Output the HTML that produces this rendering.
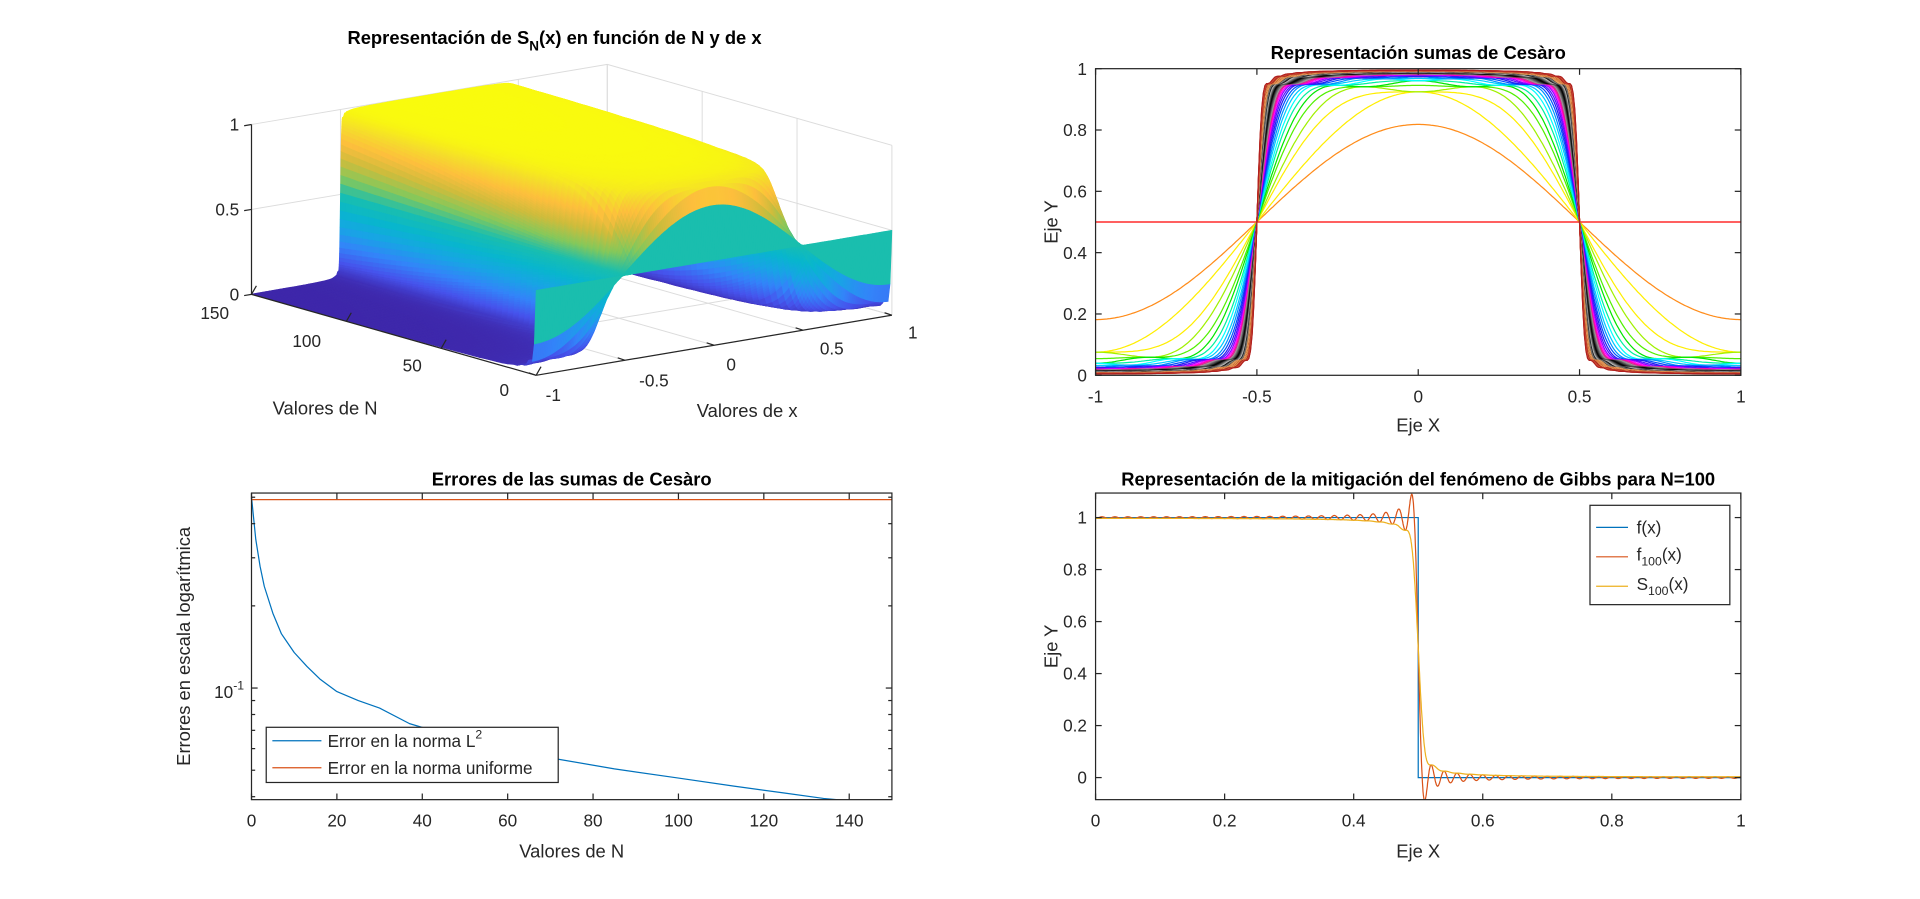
<!DOCTYPE html>
<html><head><meta charset="utf-8"><style>
html,body{margin:0;padding:0;background:#fff;}
svg{display:block;}
text{font-family:"Liberation Sans",Arial,sans-serif;fill:#262626;}
.t{font-size:14px;}
.b{font-weight:bold;font-size:15px;fill:#000;}
.l{font-size:15px;}
</style></head><body>
<svg id="fig" xmlns="http://www.w3.org/2000/svg" width="1920" height="899" viewBox="0 0 1565 733" preserveAspectRatio="none">
<rect width="1565" height="733" fill="#fff"/>
<g id="p3d"></g>
<g id="ptr"></g>
<g id="pbl"></g>
<g id="pbr"></g>
</svg>
<script>
// ---------- data ----------
const errN = [0,1,2,3,5,7,10,13,16,20,25,30,37,45,56,70,85,100,113,125,134,150];
const errL2 = [0.50,0.35,0.279,0.236,0.188,0.158,0.135,0.120,0.108,0.097,0.090,0.0845,0.0741,0.068,0.0615,0.0555,0.0506,0.0468,0.0437,0.0412,0.0394,0.0374];
const errUnif = [0.49,0.49];
const errUnifN = [0,150];
const cesaroNs = []; for (let n=0;n<=60;n++) cesaroNs.push(n);
const gibbsN = [100];
const xTicksTR = [-1,-0.5,0,0.5,1];
const yTicksTR = [0,0.2,0.4,0.6,0.8,1];
const xTicksBR = [0,0.2,0.4,0.6,0.8,1];
const yTicksBR = [0,0.2,0.4,0.6,0.8,1];
const xTicksBL = [0,20,40,60,80,100,120,140];
const zTicks3d = [0,0.5,1];
const nTicks3d = [0,50,100,150];
const xTicks3d = [-1,-0.5,0,0.5,1];

const NS='http://www.w3.org/2000/svg';
function el(tag, attrs, parent, txt){const e=document.createElementNS(NS,tag);for(const k in attrs)e.setAttribute(k,attrs[k]);if(txt!==undefined)e.textContent=txt;parent.appendChild(e);return e;}
function coef(k){return 2*Math.sin(k*Math.PI/2)/(k*Math.PI);}
function fejer(N,x){let s=0.5;for(let k=1;k<=N;k++){s+=(1-k/(N+1))*coef(k)*Math.cos(k*Math.PI*x);}return s;}
function partial(N,x){let s=0.5;for(let k=1;k<=N;k++){s+=coef(k)*Math.cos(k*Math.PI*x);}return s;}
const AX='#262626';

// ---------- 3D ----------
(function(){
 const g=document.getElementById('p3d');
 const A=[205,240],B=[437,306],C=[727,257],ZU=138.5;
 function P(N,x,z){const a=(150-N)/150,b=(x+1)/2;return [A[0]+a*(B[0]-A[0])+b*(C[0]-B[0]),A[1]+a*(B[1]-A[1])+b*(C[1]-B[1])-z*ZU];}
 const pt=p=>p[0].toFixed(1)+','+p[1].toFixed(1);
 const grid=el('g',{},g);
 const gs={stroke:'#dcdcdc','stroke-width':0.8};
 zTicks3d.forEach(z=>{const p1=P(150,-1,z),p2=P(150,1,z),p3=P(0,1,z);el('polyline',Object.assign({points:pt(p1)+' '+pt(p2)+' '+pt(p3),fill:'none'},gs),grid);});
 xTicks3d.forEach(x=>{el('line',Object.assign({x1:P(150,x,0)[0],y1:P(150,x,0)[1],x2:P(150,x,1)[0],y2:P(150,x,1)[1]},gs),grid);el('line',Object.assign({x1:P(0,x,0)[0],y1:P(0,x,0)[1],x2:P(150,x,0)[0],y2:P(150,x,0)[1]},gs),grid);});
 nTicks3d.forEach(n=>{el('line',Object.assign({x1:P(n,1,0)[0],y1:P(n,1,0)[1],x2:P(n,1,1)[0],y2:P(n,1,1)[1]},gs),grid);el('line',Object.assign({x1:P(n,-1,0)[0],y1:P(n,-1,0)[1],x2:P(n,1,0)[0],y2:P(n,1,0)[1]},gs),grid);});
 const stops=[[62,38,168],[70,83,236],[51,132,249],[24,164,229],[8,182,205],[25,190,175],[133,200,91],[206,188,60],[253,190,61],[245,221,43],[249,251,14]];
 function parula(v){v=Math.max(0,Math.min(1,v))*10;const i=Math.min(9,Math.floor(v)),f=v-i;const a=stops[i],b=stops[i+1];return 'rgb('+a.map((c,j)=>Math.round(c+(b[j]-c)*f)).join(',')+')';}
 const nRows=[];for(let n=150;n>10;n-=3)nRows.push(n);for(let n=10;n>=0;n--)nRows.push(n);
 const xs=[];let x=-1;
 while(x<1-1e-9){xs.push(x);const d1=Math.abs(x+0.5),d2=Math.abs(x-0.5);x+= d1<0.035?0.0007:(d2<0.04?0.002:0.01);}
 xs.push(1);
 const Z={};nRows.forEach(n=>{Z[n]=xs.map(x=>fejer(n,x));});
 let zmax=0;nRows.forEach(n=>Z[n].forEach(v=>{if(v>zmax)zmax=v;}));
 const surf=el('g',{},g);
 for(let r=0;r<nRows.length-1;r++){const n1=nRows[r],n2=nRows[r+1];
  for(let i=xs.length-2;i>=0;i--){
   const z11=Z[n1][i],z12=Z[n1][i+1],z21=Z[n2][i],z22=Z[n2][i+1];
   const cz = n2<10 ? z21 : (z11+z12+z21+z22)/4;
   const col=parula(cz/zmax);
   el('polygon',{points:[P(n1,xs[i],z11),P(n1,xs[i+1],z12),P(n2,xs[i+1],z22),P(n2,xs[i],z21)].map(pt).join(' '),fill:col,stroke:col,'stroke-width':0.5,'stroke-linejoin':'round'},surf);
  }}
 const ax=el('g',{stroke:AX,'stroke-width':1,fill:'none'},g);
 el('line',{x1:P(150,-1,0)[0],y1:P(150,-1,0)[1],x2:P(150,-1,1)[0],y2:P(150,-1,1)[1]},ax);
 el('line',{x1:A[0],y1:A[1],x2:B[0],y2:B[1]},ax);
 el('line',{x1:B[0],y1:B[1],x2:C[0],y2:C[1]},ax);
 zTicks3d.forEach(z=>{const p=P(150,-1,z);el('line',{x1:p[0]-6,y1:p[1]+1,x2:p[0],y2:p[1]},ax);const t=el('text',{x:p[0]-10,y:p[1]+5,'text-anchor':'end',class:'t'},g,String(z));});
 const nLab={150:[175,260],100:[250,283],50:[336,303],0:[411,323]};
 nTicks3d.forEach(n=>{const p=P(n,-1,0);el('line',{x1:p[0],y1:p[1],x2:p[0]+4,y2:p[1]-7},ax);const t=el('text',{x:nLab[n][0],y:nLab[n][1],'text-anchor':'middle',class:'t'},g,String(n));});
 const xLab={'-1':[451,327],'-0.5':[533,315],'0':[596,302],'0.5':[678,289],'1':[744,276]};
 xTicks3d.forEach(x=>{const p=P(0,x,0);el('line',{x1:p[0],y1:p[1],x2:p[0]-6,y2:p[1]-2},ax);const q=xLab[String(x)];const t=el('text',{x:q[0],y:q[1],'text-anchor':'middle',class:'t'},g,String(x));});
 let t=el('text',{x:265,y:338,'text-anchor':'middle',class:'l'},g,'Valores de N');
 t=el('text',{x:609,y:340,'text-anchor':'middle',class:'l'},g,'Valores de x');
 t=el('text',{x:452,y:36,'text-anchor':'middle',class:'b'},g);
 t.innerHTML='Representación de S<tspan dy="5" font-size="11">N</tspan><tspan dy="-5">(x) en función de N y de x</tspan>';
})();

function box(g,L,T,R,Bt){el('rect',{x:L,y:T,width:R-L,height:Bt-T,fill:'none',stroke:AX,'stroke-width':1},g);}

// ---------- top right ----------
(function(){
 const g=document.getElementById('ptr');const L=893,R=1419,T=56,Bt=306;
 const sx=x=>L+(x+1)/2*(R-L),sy=y=>Bt-y*(Bt-T);
 function colorFor(n){
  if(n===0)return '#ff0000';if(n===1)return '#ff8c1a';if(n<=3)return '#ffee00';
  if(n<=6)return ['#a0f000','#50f000','#00e600'][n-4];
  if(n<=9)return ['#00f0a0','#00ffff','#00c8ff'][n-7];
  if(n<=13)return ['#0090ff','#0050ff','#2020f0','#5010ff'][n-10];
  if(n<=17)return ['#9000ff','#ff00ff','#ff00b0','#d0308a'][n-14];
  if(n<=35)return ['#999','#777','#555','#333','#111','#000','#222','#444','#666','#888','#aaa','#bbb','#000','#333','#555','#777','#999','#222'][n-18];
  return ['#e8a060','#d08040','#f0c080','#c06020','#ffd0a0','#b05010','#e07030','#ffe0c0','#d06010','#a04010','#ff9040','#e0b070','#c07040','#f08050','#b06030','#c02020','#a01010','#d04030','#902010','#e05050','#b03020','#c84030','#e09060','#d04020','#b02020'][n-36];
 }
 const xs=[];for(let i=0;i<=400;i++)xs.push(-1+i*0.005);
 const lines=el('g',{fill:'none','stroke-width':1},g);
 cesaroNs.forEach(n=>{const p=el('polyline',{points:xs.map(x=>sx(x).toFixed(1)+','+sy(fejer(n,x)).toFixed(1)).join(' '),stroke:colorFor(n)},lines);
  
  });
 box(g,L,T,R,Bt);
 xTicksTR.forEach(v=>{const x=sx(v);el('line',{x1:x,y1:Bt,x2:x,y2:Bt-5,stroke:AX},g);el('line',{x1:x,y1:T,x2:x,y2:T+5,stroke:AX},g);const t=el('text',{x:x,y:Bt+22,'text-anchor':'middle',class:'t'},g,String(v));});
 yTicksTR.forEach(v=>{const y=sy(v);el('line',{x1:L,y1:y,x2:L+5,y2:y,stroke:AX},g);el('line',{x1:R,y1:y,x2:R-5,y2:y,stroke:AX},g);const t=el('text',{x:L-7,y:y+5,'text-anchor':'end',class:'t'},g,String(v));});
 let t=el('text',{x:1156,y:48,'text-anchor':'middle',class:'b'},g,'Representación sumas de Cesàro');
 t=el('text',{x:1156,y:352,'text-anchor':'middle',class:'l'},g,'Eje X');
 t=el('text',{x:0,y:0,'text-anchor':'middle',class:'l',transform:'translate(862,181) rotate(-90)'},g,'Eje Y');
})();

// ---------- bottom left (log) ----------
(function(){
 const g=document.getElementById('pbl');const L=205,R=727,T=402,Bt=652;
 const sx=n=>L+n/150*(R-L);const dec=222.6;const sy=v=>561-(Math.log10(v)+1)*dec;
 const cp=el('clipPath',{id:'cbl'},g);el('rect',{x:L,y:T,width:R-L,height:Bt-T},cp);
 const pl=el('g',{'clip-path':'url(#cbl)',fill:'none','stroke-width':1},g);
 let p=el('polyline',{points:errN.map((n,i)=>sx(n).toFixed(1)+','+sy(errL2[i]).toFixed(1)).join(' '),stroke:'#0072BD','stroke-linejoin':'round'},pl);
 
 p=el('polyline',{points:errUnifN.map((n,i)=>sx(n).toFixed(1)+','+sy(errUnif[i]).toFixed(1)).join(' '),stroke:'#D95319'},pl);
 
 box(g,L,T,R,Bt);
 xTicksBL.forEach(v=>{const x=sx(v);el('line',{x1:x,y1:Bt,x2:x,y2:Bt-5,stroke:AX},g);el('line',{x1:x,y1:T,x2:x,y2:T+5,stroke:AX},g);const t=el('text',{x:x,y:Bt+22,'text-anchor':'middle',class:'t'},g,String(v));});
 [0.04,0.05,0.06,0.07,0.08,0.09,0.1,0.2,0.3,0.4,0.5].forEach(v=>{const y=sy(v);if(y<T||y>Bt)return;const len=v===0.1?5:3;el('line',{x1:L,y1:y,x2:L+len,y2:y,stroke:AX},g);el('line',{x1:R,y1:y,x2:R-len,y2:y,stroke:AX},g);});
 let t=el('text',{x:199,y:569,'text-anchor':'end',class:'t'},g);t.innerHTML='10<tspan dy="-7" font-size="10">-1</tspan>';
 const lg=el('g',{},g);
 el('rect',{x:217,y:593,width:238,height:45,fill:'#fff',stroke:AX,'stroke-width':1},lg);
 el('line',{x1:222,y1:604,x2:262,y2:604,stroke:'#0072BD'},lg);
 el('line',{x1:222,y1:626,x2:262,y2:626,stroke:'#D95319'},lg);
 t=el('text',{x:267,y:609,class:'t'},lg);t.innerHTML='Error en la norma L<tspan dy="-7" font-size="10">2</tspan>';
 t=el('text',{x:267,y:631,class:'t'},lg,'Error en la norma uniforme');
 t=el('text',{x:466,y:396,'text-anchor':'middle',class:'b'},g,'Errores de las sumas de Cesàro');
 t=el('text',{x:466,y:699,'text-anchor':'middle',class:'l'},g,'Valores de N');
 t=el('text',{x:0,y:0,'text-anchor':'middle',class:'l',transform:'translate(155,527) rotate(-90)'},g,'Errores en escala logarítmica');
})();

// ---------- bottom right ----------
(function(){
 const g=document.getElementById('pbr');const L=893,R=1419,T=402,Bt=652;
 const sx=x=>L+x*(R-L);const sy=y=>634-y*212;
 const cp=el('clipPath',{id:'cbr'},g);el('rect',{x:L,y:T,width:R-L,height:Bt-T},cp);
 const pl=el('g',{'clip-path':'url(#cbr)',fill:'none','stroke-width':1},g);
 const N=gibbsN[0];const xs=[];for(let i=0;i<=2000;i++)xs.push(i/2000);
 let p=el('polyline',{points:[[0,1],[0.5,1],[0.5,0],[1,0]].map(q=>sx(q[0])+','+sy(q[1])).join(' '),stroke:'#0072BD'},pl);
 
 p=el('polyline',{points:xs.map(x=>sx(x).toFixed(1)+','+sy(partial(N,x)).toFixed(1)).join(' '),stroke:'#D95319'},pl);
 
 p=el('polyline',{points:xs.map(x=>sx(x).toFixed(1)+','+sy(fejer(N,x)).toFixed(1)).join(' '),stroke:'#EDB120'},pl);
 
 box(g,L,T,R,Bt);
 xTicksBR.forEach(v=>{const x=sx(v);el('line',{x1:x,y1:Bt,x2:x,y2:Bt-5,stroke:AX},g);el('line',{x1:x,y1:T,x2:x,y2:T+5,stroke:AX},g);const t=el('text',{x:x,y:Bt+22,'text-anchor':'middle',class:'t'},g,String(v));});
 yTicksBR.forEach(v=>{const y=sy(v);el('line',{x1:L,y1:y,x2:L+5,y2:y,stroke:AX},g);el('line',{x1:R,y1:y,x2:R-5,y2:y,stroke:AX},g);const t=el('text',{x:L-7,y:y+5,'text-anchor':'end',class:'t'},g,String(v));});
 const lg=el('g',{},g);
 el('rect',{x:1296,y:412,width:114,height:81,fill:'#fff',stroke:AX,'stroke-width':1},lg);
 el('line',{x1:1301,y1:430,x2:1327,y2:430,stroke:'#0072BD'},lg);
 el('line',{x1:1301,y1:454,x2:1327,y2:454,stroke:'#D95319'},lg);
 el('line',{x1:1301,y1:478,x2:1327,y2:478,stroke:'#EDB120'},lg);
 let t=el('text',{x:1334,y:435,class:'t'},lg,'f(x)');
 t=el('text',{x:1334,y:457,class:'t'},lg);t.innerHTML='f<tspan dy="4" font-size="10">100</tspan><tspan dy="-4">(x)</tspan>';
 t=el('text',{x:1334,y:481,class:'t'},lg);t.innerHTML='S<tspan dy="4" font-size="10">100</tspan><tspan dy="-4">(x)</tspan>';
 t=el('text',{x:1156,y:396,'text-anchor':'middle',class:'b'},g,'Representación de la mitigación del fenómeno de Gibbs para N=100');
 t=el('text',{x:1156,y:699,'text-anchor':'middle',class:'l'},g,'Eje X');
 t=el('text',{x:0,y:0,'text-anchor':'middle',class:'l',transform:'translate(862,527) rotate(-90)'},g,'Eje Y');
})();
</script>
</body></html>
